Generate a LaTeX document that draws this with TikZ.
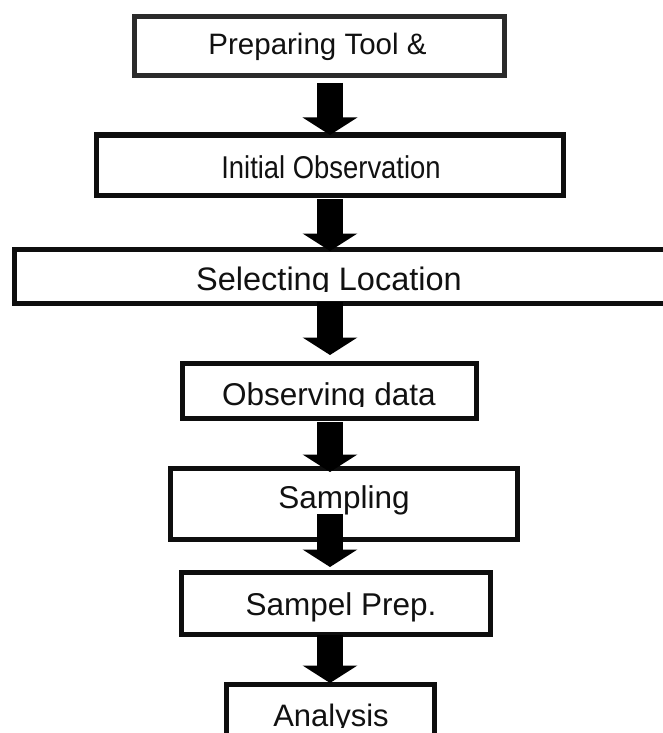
\documentclass[tikz,border=0pt]{standalone}
\usepackage{fontspec}
\setmainfont{Liberation Sans}
\usetikzlibrary{arrows.meta,calc}

\definecolor{frameA}{HTML}{2B2B2B}
\definecolor{frameB}{HTML}{0E0E0E}
\definecolor{ink}{HTML}{111111}

\tikzset{
  stepbox/.style={draw=frameB, line width=5pt, inner sep=0pt, outer sep=0pt, fill=white},
  steptext/.style={anchor=base, inner sep=0pt, text=ink, font=\fontsize{31.5}{36}\selectfont},
  bigarrow/.style={line width=26pt, draw=black, -{Triangle[width=54pt,length=17.5pt]}},
}

\begin{document}
\begin{tikzpicture}[x=1pt, y=-1pt]
  % page area
  \clip (0,0) rectangle (663,733);
  \fill[white] (0,0) rectangle (663,733);

  % process boxes
  \node[stepbox, draw=frameA, minimum width=369.4pt, minimum height=59pt] (b1) at (319.5,46) {};
  \node[stepbox, minimum width=467pt,   minimum height=60pt]   (b2) at (330,165) {};
  \node[stepbox, minimum width=685.5pt, minimum height=54.5pt] (b3) at (357.25,276.25) {};
  \node[stepbox, minimum width=294.5pt, minimum height=55pt]   (b4) at (329.25,391) {};
  \node[stepbox, minimum width=346.5pt, minimum height=71pt]   (b5) at (343.75,504) {};
  \node[stepbox, minimum width=309pt,   minimum height=62pt]   (b6) at (336,603.5) {};
  \node[stepbox, minimum width=208pt,   minimum height=75pt]   (b7) at (330.5,722) {};

  % labels
  \node[steptext, font=\fontsize{29.5}{34}\selectfont] (t1) at (317.5,55) {Preparing Tool \&};
  \node[steptext, font=\fontsize{31.5}{36}\selectfont, xscale=0.87] (t2) at (331,178) {Initial Observation};
  \begin{scope}
    \clip (0,249) rectangle (663,291.5);
    \node[steptext, font=\fontsize{32.5}{37}\selectfont] (t3) at (329,290) {Selecting Location};
  \end{scope}
  \begin{scope}
    \clip (0,363) rectangle (663,406.5);
    \node[steptext] (t4) at (329,405) {Observing data};
  \end{scope}
  \node[steptext] (t5) at (344,508) {Sampling};
  \node[steptext] (t6) at (341,615) {Sampel Prep.};
  \begin{scope}
    \clip (0,684) rectangle (663,727.5);
    \node[steptext, font=\fontsize{31}{36}\selectfont] (t7) at (331,726) {Analysis};
  \end{scope}

  % flow arrows along a common axis
  \coordinate (ax) at (330,0);
  \draw[bigarrow] ($(ax |- b1.south)+(0,7.5)$) -- ($(ax |- b2.north)+(0,0)$);
  \draw[bigarrow] ($(ax |- b2.south)+(0,4)$)   -- ($(ax |- b3.north)+(0,2)$);
  \draw[bigarrow] ($(ax |- b3.south)+(0,-1.5)$) -- ($(ax |- b4.north)+(0,-8.5)$);
  \draw[bigarrow] ($(ax |- b4.south)+(0,3.5)$) -- ($(ax |- b5.north)+(0,3.5)$);
  \draw[bigarrow] ($(ax |- b5.south)+(0,-25.5)$) -- ($(ax |- b6.north)+(0,-5.5)$);
  \draw[bigarrow] ($(ax |- b6.south)+(0,0.5)$) -- ($(ax |- b7.north)+(0,-1.5)$);
\end{tikzpicture}
\end{document}
